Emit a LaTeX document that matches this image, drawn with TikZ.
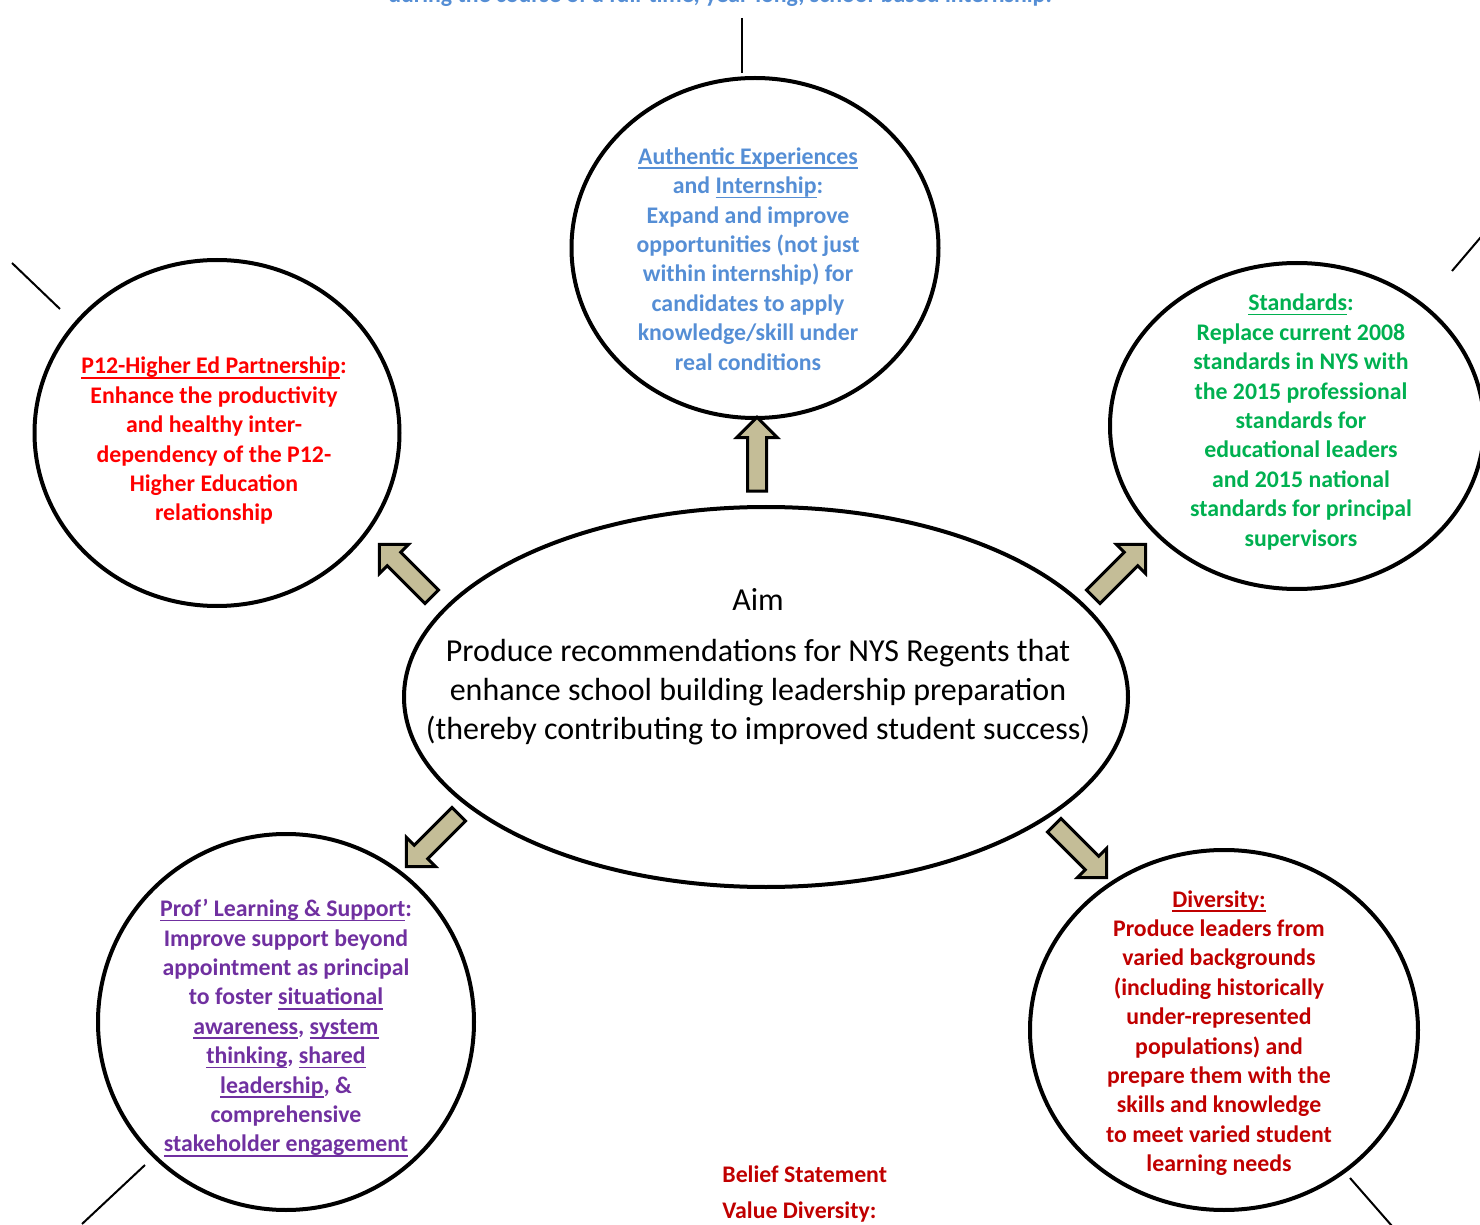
\documentclass[tikz,border=0pt]{standalone}
\usepackage{fontspec}
\setmainfont{Carlito}
\usetikzlibrary{shapes.geometric,shapes.arrows}

\definecolor{blueT}{RGB}{85,142,213}
\definecolor{redT}{RGB}{255,0,0}
\definecolor{greenT}{RGB}{0,176,80}
\definecolor{purpleT}{RGB}{112,48,160}
\definecolor{darkredT}{RGB}{192,0,0}
\definecolor{tanfill}{RGB}{196,189,151}
\newcommand{\ulbox}[1]{\setbox0\hbox{#1}\rlap{\rule[-2.3pt]{\wd0}{0.8pt}}\box0}

\begin{document}
\begin{tikzpicture}[x=0.5pt,y=-0.5pt,
    bubble/.style={draw=black, line width=2pt, ellipse, inner sep=0pt},
    bubtext/.style={align=center, inner sep=0pt, font=\bfseries\fontsize{11.9}{14.7}\selectfont},
    fatarrow/.style={single arrow, draw=black, fill=tanfill, line width=1.5pt,
        inner sep=4pt, minimum height=37pt, single arrow head extend=5.5pt},
    tick/.style={black, line width=1pt}]
    \useasboundingbox (0,0) rectangle (1480,1225);

    % text running off the top
    \node[bubtext, text=blueT, anchor=base] (toptext) at (720,3)
        {during the course of a full-time, year-long, school-based internship.};

    % aim
    \node[bubble, minimum width=362pt, minimum height=190pt] (aim) at (766,697) {};
    \node[align=center, inner sep=0pt, font=\fontsize{16}{19.5}\selectfont] (aimtxt) at (758,667)
        {Aim\\[6pt]
         Produce recommendations for NYS Regents that\\
         enhance school building leadership preparation\\
         (thereby contributing to improved student success)};

    % internship
    \node[bubble, minimum width=183.5pt, minimum height=170pt] (intern) at (755,248) {};
    \node[bubtext, text=blueT] (interntxt) at (748,259)
        {\ulbox{Authentic Experiences}\\
         and \ulbox{Internship}:\\
         Expand and improve\\
         opportunities (not just\\
         within internship) for\\
         candidates to apply\\
         knowledge/skill under\\
         real conditions};

    % partnership
    \node[bubble, minimum width=182.5pt, minimum height=173pt] (partner) at (217,433) {};
    \node[bubtext, text=redT] (partnertxt) at (214,441)
        {\ulbox{P12-Higher Ed Partnership}:\\
         Enhance the productivity\\
         and healthy inter-\\
         dependency of the P12-\\
         Higher Education\\
         relationship};

    % standards
    \node[bubble, minimum width=187pt, minimum height=163pt] (stand) at (1297,426) {};
    \node[bubtext, text=greenT] (standtxt) at (1301,422)
        {\ulbox{Standards}:\\
         Replace current 2008\\
         standards in NYS with\\
         the 2015 professional\\
         standards for\\
         educational leaders\\
         and 2015 national\\
         standards for principal\\
         supervisors};

    % learning
    \node[bubble, minimum width=188pt, minimum height=188pt] (learn) at (286,1022) {};
    \node[bubtext, text=purpleT] (learntxt) at (286,1028)
        {\ulbox{Prof’ Learning \& Support}:\\
         Improve support beyond\\
         appointment as principal\\
         to foster \ulbox{situational}\\
         \ulbox{awareness}, \ulbox{system}\\
         \ulbox{thinking}, \ulbox{shared}\\
         \ulbox{leadership}, \&\\
         comprehensive\\
         \ulbox{stakeholder engagement}};

    % diversity
    \node[bubble, minimum width=194pt, minimum height=180pt] (divers) at (1224,1030) {};
    \node[bubtext, text=darkredT] (diverstxt) at (1219,1033)
        {\ulbox{Diversity:}\\
         Produce leaders from\\
         varied backgrounds\\
         (including historically\\
         under-represented\\
         populations) and\\
         prepare them with the\\
         skills and knowledge\\
         to meet varied student\\
         learning needs};

    % belief
    \node[bubtext, text=darkredT, anchor=west] (belief) at (722,1174) {Belief Statement};
    \node[bubtext, text=darkredT, anchor=west] (value) at (722,1212) {Value Diversity:};

    % arrows
    \node[fatarrow, rotate=90] (arrIntern) at (757,459) {};
    \node[fatarrow, rotate=135] (arrPartner) at (409,574) {};
    \node[fatarrow, rotate=45] (arrStand) at (1116,574) {};
    \node[fatarrow, rotate=225] (arrLearn) at (436,837) {};
    \node[fatarrow, rotate=-45] (arrDivers) at (1077,848) {};

    % |
    \draw[tick] (742,18) -- (742,73);
    \draw[tick] (12,263) -- (60,309);
    \draw[tick] (1452,271) -- (1492,224);
    \draw[tick] (145,1165) -- (82,1224);
    \draw[tick] (1350,1178) -- (1392,1226);
\end{tikzpicture}
\end{document}
